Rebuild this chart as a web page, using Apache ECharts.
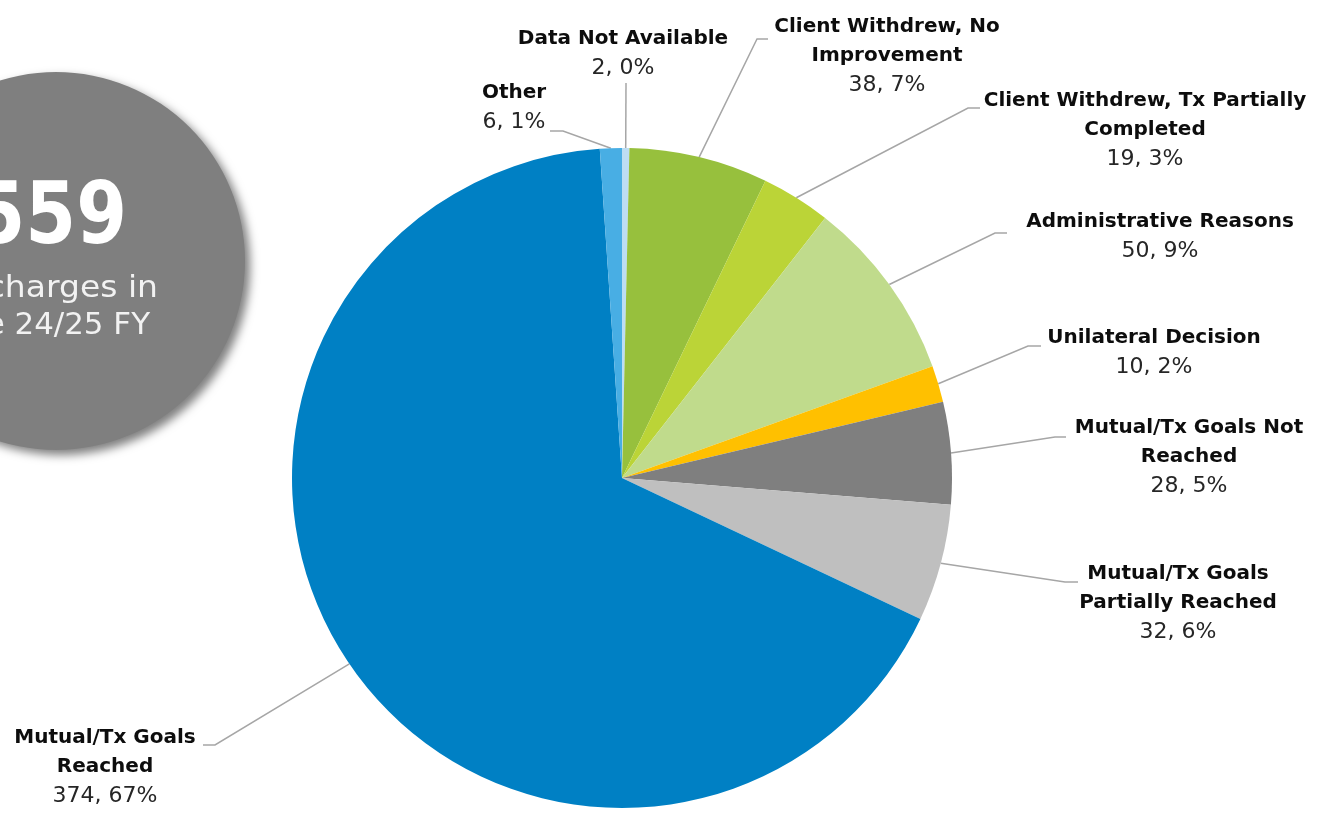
<!DOCTYPE html>
<html>
<head>
<meta charset="utf-8">
<script src="https://cdn.jsdelivr.net/npm/echarts@6/dist/echarts.min.js"></script>
<style>
  html, body { margin: 0; padding: 0; background: #fff; }
  #chart { width: 1322px; height: 813px; }
</style>
</head>
<body>
<div id="chart"></div>
<script>
// discharge reasons, clockwise from 12 o'clock
const categories = [
  "Data Not Available",
  "Client Withdrew, No\nImprovement",
  "Client Withdrew, Tx Partially\nCompleted",
  "Administrative Reasons",
  "Unilateral Decision",
  "Mutual/Tx Goals Not\nReached",
  "Mutual/Tx Goals\nPartially Reached",
  "Mutual/Tx Goals\nReached",
  "Other",
];
const counts = [2, 38, 19, 50, 10, 28, 32, 374, 6];
const sliceColors = [
  "#BDDDF3", "#97C03D", "#BBD437", "#C0DB8C", "#FFC000",
  "#7F7F7F", "#BFBFBF", "#0080C4", "#48AEE4",
];
const totalText = ["Discharges in", "the 24/25 FY"];

// where each label sits (center x, top y) and the leader line bend / end
const labelPlaces = [
  { x: 623, y: 24, line: [[626, 83], [626, 83]] },
  { x: 887, y: 12, line: [[757, 39], [768, 39]] },
  { x: 1145, y: 86, line: [[968, 108], [980, 108]] },
  { x: 1160, y: 207, line: [[995, 233], [1007, 233]] },
  { x: 1154, y: 323, line: [[1028, 346], [1041, 346]] },
  { x: 1189, y: 413, line: [[1055, 437], [1066, 437]] },
  { x: 1178, y: 559, line: [[1065, 582], [1078, 582]] },
  { x: 105, y: 723, line: [[215, 745], [203, 745]] },
  { x: 514, y: 78, line: [[563, 131], [550, 131]] },
];

const total = counts.reduce((a, b) => a + b, 0);
const chart = echarts.init(document.getElementById("chart"));

chart.setOption({
  animation: false,
  graphic: [
    {
      type: "circle",
      shape: { cx: 56, cy: 261, r: 189 },
      style: {
        fill: "#7F7F7F",
        shadowBlur: 10,
        shadowColor: "rgba(0,0,0,0.5)",
        shadowOffsetX: 5,
        shadowOffsetY: 5,
      },
    },
    {
      type: "text",
      x: 127,
      y: 221,
      scaleX: 0.85,
      style: {
        text: String(total),
        fill: "#fff",
        font: "bold 86px 'DejaVu Sans'",
        textAlign: "right",
        textVerticalAlign: "middle",
      },
    },
    {
      type: "text",
      x: 158,
      y: 289,
      scaleX: 1.1,
      style: {
        text: totalText[0],
        fill: "#F2F2F2",
        font: "30px 'DejaVu Sans'",
        textAlign: "right",
        textVerticalAlign: "middle",
      },
    },
    {
      type: "text",
      x: 150,
      y: 326,
      scaleX: 1.03,
      style: {
        text: totalText[1],
        fill: "#F2F2F2",
        font: "30px 'DejaVu Sans'",
        textAlign: "right",
        textVerticalAlign: "middle",
      },
    },
  ],
  series: [
    {
      type: "pie",
      center: [622, 478],
      radius: 330,
      startAngle: 90,
      clockwise: true,
      avoidLabelOverlap: false,
      data: categories.map((name, i) => ({
        name: name,
        value: counts[i],
        itemStyle: { color: sliceColors[i] },
      })),
      itemStyle: { borderWidth: 0 },
      label: {
        show: true,
        position: "outside",
        formatter: (p) => {
          const lines = p.name.split("\n").map((l) => "{b|" + l + "}");
          const pct = Math.round((p.value / total) * 100);
          lines.push("{v|" + p.value + ", " + pct + "%}");
          return lines.join("\n");
        },
        align: "center",
        rich: {
          b: {
            fontFamily: "DejaVu Sans",
            fontWeight: "bold",
            fontSize: 20,
            lineHeight: 29.5,
            color: "#0D0D0D",
            align: "center",
          },
          v: {
            fontFamily: "DejaVu Sans",
            fontSize: 22,
            lineHeight: 29.5,
            color: "#262626",
            align: "center",
          },
        },
      },
      labelLine: {
        show: true,
        length: 10,
        length2: 10,
        lineStyle: { color: "#A6A6A6", width: 1.5 },
      },
      labelLayout: (params) => {
        const place = labelPlaces[params.dataIndex];
        const start = params.labelLinePoints[0];
        return {
          x: place.x,
          y: place.y,
          align: "center",
          verticalAlign: "top",
          labelLinePoints: [start, place.line[0], place.line[1]],
        };
      },
    },
  ],
});
</script>
</body>
</html>
